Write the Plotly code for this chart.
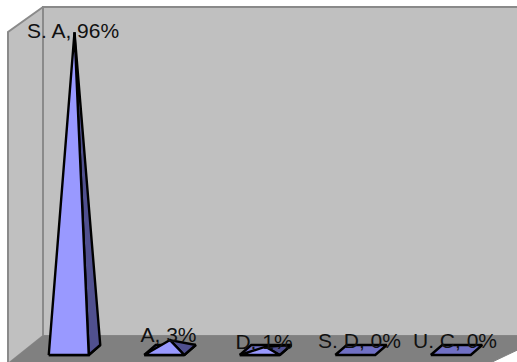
import plotly.graph_objects as go

categories = ["S. A", "A", "D", "S. D", "U. C"]
percent = [96, 3, 1, 0, 0]

# Scale: x runs in category units, y in percent; the oblique floor shear is expressed in the same units.
W, H = 517, 362
PX_PER_CAT = 95.5
PX_PER_PCT = 3.31
X0_PX, Y0_PX = 74.5, 350
X_RANGE = [-X0_PX / PX_PER_CAT, (W - X0_PX) / PX_PER_CAT]
Y_RANGE = [(Y0_PX - H) / PX_PER_PCT, Y0_PX / PX_PER_PCT]

HALF_W = 20 / PX_PER_CAT
DEPTH_X = 5.75 / PX_PER_CAT
DEPTH_Y = 5 / PX_PER_PCT
LABEL_LIFT = [-0.3, 0.9, 0.9, 2.1, 2.1]
LABEL_SHIFT = -1.5 / PX_PER_CAT

# Chart box corners, in axis units
WALL_LEFT = (43 - X0_PX) / PX_PER_CAT
WALL_FRONT_LEFT = (8 - X0_PX) / PX_PER_CAT
WALL_RIGHT = (W + 30 - X0_PX) / PX_PER_CAT
FLOOR_BACK = (Y0_PX - 336) / PX_PER_PCT
FLOOR_FRONT = (Y0_PX - 364) / PX_PER_PCT
WALL_TOP = (Y0_PX - 7) / PX_PER_PCT
WALL_TOP_FRONT = (Y0_PX - 32) / PX_PER_PCT

fig = go.Figure()


def poly(xs, ys, fill, line="black", width=2.4):
    fig.add_trace(go.Scatter(
        x=xs + xs[:1], y=ys + ys[:1], mode="lines", fill="toself",
        fillcolor=fill, line=dict(color=line, width=width),
        hoverinfo="skip", showlegend=False,
    ))


# Back wall, side wall and floor
poly([WALL_LEFT, WALL_RIGHT, WALL_RIGHT, WALL_LEFT],
     [FLOOR_BACK, FLOOR_BACK, WALL_TOP, WALL_TOP], "#c0c0c0", "#8a8a8a", 2)
poly([WALL_FRONT_LEFT, WALL_LEFT, WALL_LEFT, WALL_FRONT_LEFT],
     [FLOOR_FRONT, FLOOR_BACK, WALL_TOP, WALL_TOP_FRONT], "#c0c0c0", "#8a8a8a", 2)
poly([WALL_FRONT_LEFT, WALL_LEFT, WALL_RIGHT, WALL_RIGHT - 59 / PX_PER_CAT],
     [FLOOR_FRONT, FLOOR_BACK, FLOOR_BACK, FLOOR_FRONT], "#808080", "#808080", 1)

# One pyramid per category: base first, then the two visible faces
for i, value in enumerate(percent):
    fl, fr = i - DEPTH_X - HALF_W, i - DEPTH_X + HALF_W
    front, back = -DEPTH_Y, DEPTH_Y
    poly([fl, fr, fr + 2 * DEPTH_X, fl + 2 * DEPTH_X],
         [front, front, back, back], "#7070c4")
    if value > 0:
        poly([fr, fr + 2 * DEPTH_X, i], [front, back, value], "#50508f")
        poly([fl, fr, i], [front, front, value], "#9999ff")

# Category and percentage labels centred over each apex
fig.add_trace(go.Scatter(
    x=[i + LABEL_SHIFT for i in range(len(categories))],
    y=[v + lift for v, lift in zip(percent, LABEL_LIFT)],
    mode="text",
    text=[f"{c}, {v}%" for c, v in zip(categories, percent)],
    textposition="middle center",
    textfont=dict(family="Liberation Sans, Arial, sans-serif", size=21, color="#111111"),
    hoverinfo="skip", showlegend=False, cliponaxis=False,
))

fig.update_layout(
    width=W, height=H, margin=dict(l=0, r=0, t=0, b=0),
    paper_bgcolor="white", plot_bgcolor="white", showlegend=False,
    xaxis=dict(range=X_RANGE, visible=False, fixedrange=True),
    yaxis=dict(range=Y_RANGE, visible=False, fixedrange=True),
)
fig.write_html("out.html", config={"displayModeBar": False})
